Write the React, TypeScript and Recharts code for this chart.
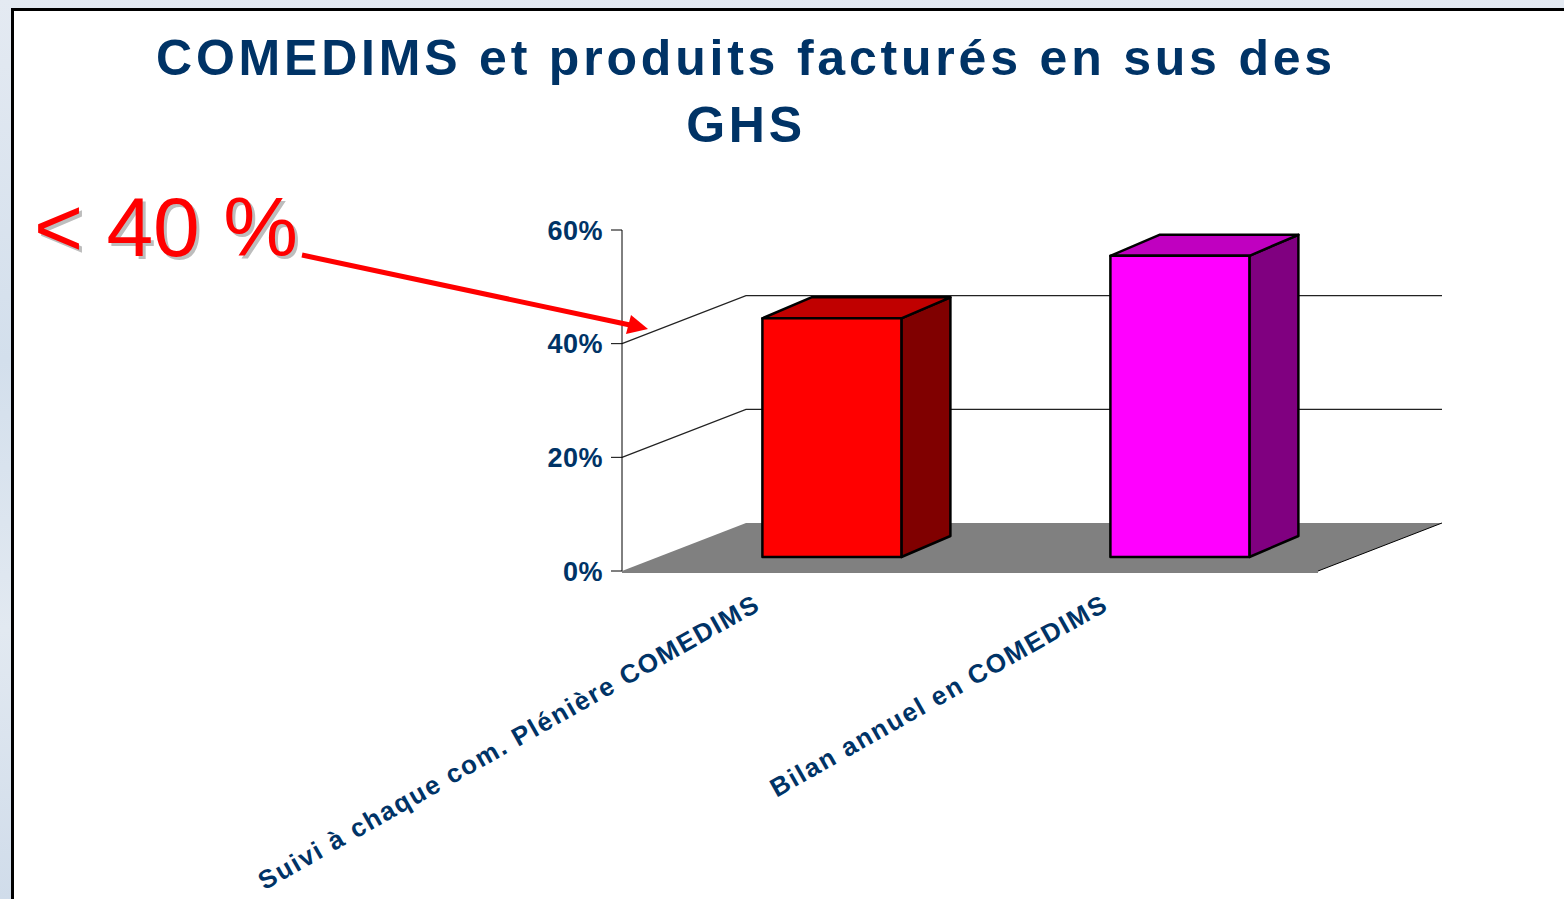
import React from "react";
import { BarChart, Bar, XAxis, YAxis, Cell, ReferenceLine } from "recharts";

// chart data
const categories = ["Suivi à chaque com. Plénière COMEDIMS", "Bilan annuel en COMEDIMS"];
const shares = [0.42, 0.53];
const yTicks = [0, 0.2, 0.4, 0.6];
const wallLines = [0.2, 0.4];
const boundaryTicks = [0, 1, 2];
const titleLines = ["COMEDIMS et produits facturés en sus des", "GHS"];
const callout = "< 40 %";

const data = categories.map((name, i) => ({ name, value: shares[i] }));

// look
const NAVY = "#003366";
const FONT = "'Liberation Sans', Arial, Helvetica, sans-serif";
const FRONT = ["#FF0000", "#FF00FF"];
const TOP = ["#C00000", "#C000C0"];
const SIDE = ["#800000", "#800080"];
// 3D projection offsets (back wall depth, bar position and bar depth)
const DEPTH = { dx: 124, dy: 48 };
const BAR_SHIFT = { dx: 36, dy: 14 };
const BAR_DEPTH = { dx: 49, dy: 21 };

const pct = (v: number) => `${Math.round(v * 100)}%`;

function Bar3D(props: any) {
  const { x, y, width, height, index } = props;
  const fx = x + BAR_SHIFT.dx;
  const fy = y - BAR_SHIFT.dy;
  const { dx, dy } = BAR_DEPTH;
  return (
    <g stroke="#000" strokeWidth={2.5} strokeLinejoin="round">
      <polygon
        points={`${fx + width},${fy} ${fx + width + dx},${fy - dy} ${fx + width + dx},${fy - dy + height} ${fx + width},${fy + height}`}
        fill={SIDE[index]}
      />
      <polygon
        points={`${fx},${fy} ${fx + dx},${fy - dy} ${fx + width + dx},${fy - dy} ${fx + width},${fy}`}
        fill={TOP[index]}
      />
      <rect x={fx} y={fy} width={width} height={height} fill={FRONT[index]} />
    </g>
  );
}

// grey floor of the 3D box, drawn from the 0% reference line
function Floor(p: any) {
  const { x1, y1, x2 } = p;
  return (
    <g>
      <polygon
        points={`${x1},${y1} ${x1 + DEPTH.dx},${y1 - DEPTH.dy} ${x2 + DEPTH.dx},${y1 - DEPTH.dy} ${x2},${y1}`}
        fill="#808080"
      />
      <line x1={x2} y1={y1} x2={x2 + DEPTH.dx} y2={y1 - DEPTH.dy} stroke="#000" strokeWidth={1} />
    </g>
  );
}

// gridline on the side + back wall
function WallLine(p: any) {
  const { x1, y1, x2 } = p;
  return (
    <polyline
      points={`${x1},${y1} ${x1 + DEPTH.dx},${y1 - DEPTH.dy} ${x2 + DEPTH.dx},${y1 - DEPTH.dy}`}
      fill="none"
      stroke="#222"
      strokeWidth={1.2}
    />
  );
}

function CategoryTick(p: any) {
  const { x, y, payload } = p;
  const ax = x - 34;
  const ay = y + 38;
  return (
    <text
      x={ax}
      y={ay}
      textAnchor="end"
      transform={`rotate(-29.5, ${ax}, ${ay})`}
      fill={NAVY}
      fontFamily={FONT}
      fontWeight="bold"
      style={{ letterSpacing: 1.7, fontSize: 26 }}
    >
      {payload.value}
    </text>
  );
}

export default function App() {
  return (
    <div style={{ position: "absolute", left: 0, top: 0, width: 1564, height: 899, background: "#fff", overflow: "hidden" }}>
      {/* slide background peeking at the edges */}
      <div
        style={{
          position: "absolute",
          left: 0,
          top: 0,
          width: 1564,
          height: 899,
          background: "linear-gradient(180deg, #e4eaf2 0%, #d3dfec 40%, #e2e9f1 70%, #d0dcea 100%)",
        }}
      />
      <div
        style={{
          position: "absolute",
          left: 11,
          top: 8,
          width: 1560,
          height: 900,
          background: "#fff",
          borderLeft: "3px solid #000",
          borderTop: "3px solid #000",
        }}
      />

      <div style={{ position: "absolute", left: 0, top: 0 }}>
        <BarChart
          width={1564}
          height={899}
          data={data}
          margin={{ top: 230, right: 246, bottom: 326, left: 522 }}
          barCategoryGap="30%"
        >
          <XAxis
            xAxisId="edge"
            type="number"
            domain={[0, categories.length]}
            ticks={boundaryTicks}
            allowDataOverflow
            height={1}
            tick={false}
            tickSize={11}
            axisLine={{ stroke: "#000" }}
            tickLine={{ stroke: "#000" }}
          />
          <XAxis
            xAxisId="cat"
            dataKey="name"
            type="category"
            height={1}
            axisLine={false}
            tickLine={false}
            tickSize={0}
            tickMargin={0}
            interval={0}
            tick={<CategoryTick />}
          />
          <YAxis
            domain={[0, 0.6]}
            ticks={yTicks}
            tickFormatter={pct}
            width={100}
            tickSize={11}
            tickMargin={8}
            axisLine={{ stroke: "#000" }}
            tickLine={{ stroke: "#000" }}
            tick={{ fill: NAVY, fontSize: 27, fontWeight: "bold", fontFamily: FONT, letterSpacing: 0.5 }}
          />
          <ReferenceLine xAxisId="cat" y={0} shape={Floor} zIndex={-20} />
          {wallLines.map((v) => (
            <ReferenceLine key={v} xAxisId="cat" y={v} shape={WallLine} zIndex={-20} />
          ))}
          <Bar xAxisId="cat" dataKey="value" shape={<Bar3D />} isAnimationActive={false}>
            {data.map((d, i) => (
              <Cell key={d.name} fill={FRONT[i]} />
            ))}
          </Bar>
        </BarChart>
      </div>

      <svg width={1564} height={899} style={{ position: "absolute", left: 0, top: 0, pointerEvents: "none" }}>
        <g fill={NAVY} fontFamily={FONT} fontWeight="bold" fontSize={50} textAnchor="middle" style={{ letterSpacing: 3.8 }}>
          <text x={746} y={75}>{titleLines[0]}</text>
          <text x={746} y={142}>{titleLines[1]}</text>
        </g>
        <g fontFamily={FONT} fontSize={84}>
          <text x={37} y={259} fill="#BDBDBD">{callout}</text>
          <text x={34} y={256} fill="#FF0000">{callout}</text>
        </g>
        <line x1={302} y1={255} x2={630} y2={325} stroke="#FF0000" strokeWidth={5} />
        <polygon points="648,329 626,334 631,315" fill="#FF0000" />
      </svg>
    </div>
  );
}
